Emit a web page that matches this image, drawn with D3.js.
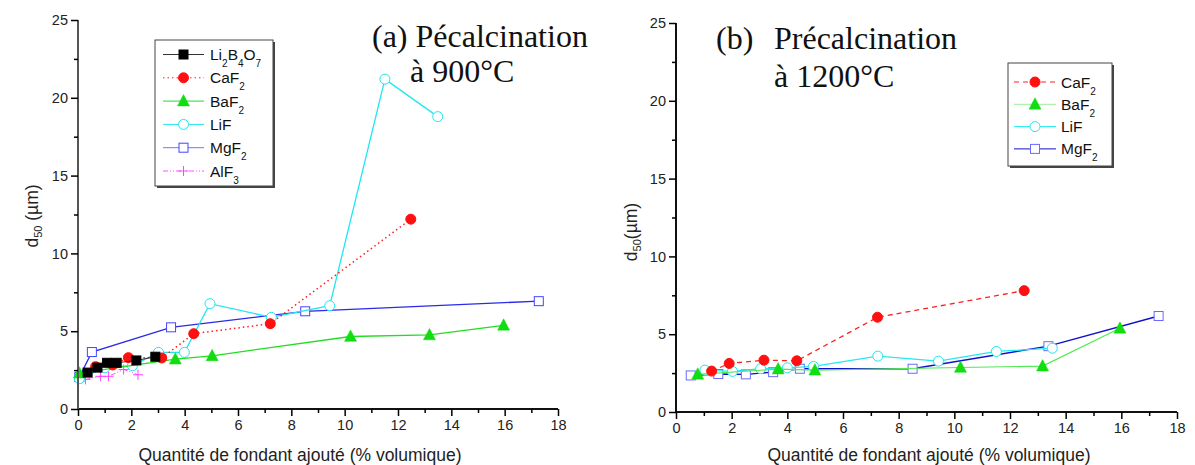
<!DOCTYPE html>
<html><head><meta charset="utf-8">
<script src="https://cdn.jsdelivr.net/npm/d3@7/dist/d3.min.js"></script>
<style>body{margin:0;background:#fff}svg{display:block}</style>
</head><body>
<svg id="c" width="1195" height="465"></svg>
<script>
// ---- data ----
const xTicks = [0, 2, 4, 6, 8, 10, 12, 14, 16, 18];
const yTicks = [0, 5, 10, 15, 20, 25];

// (a) precalcination 900°C
const li2b4o7X = [0.36, 0.73, 1.09, 1.45, 2.19, 2.9];
const li2b4o7Y = [2.34, 2.66, 2.97, 2.97, 3.12, 3.36];
const caf2aX = [0.66, 1.30, 1.89, 3.14, 4.34, 7.21, 12.48];
const caf2aY = [2.72, 2.83, 3.3, 3.28, 4.84, 5.48, 12.2];
const baf2aX = [0.05, 3.65, 5.03, 10.22, 13.18, 15.96];
const baf2aY = [2.3, 3.2, 3.42, 4.66, 4.76, 5.38];
const lifaX = [0.05, 1.01, 2.04, 3.02, 3.99, 4.95, 7.25, 9.44, 11.51, 13.49];
const lifaY = [1.95, 2.65, 2.78, 3.64, 3.64, 6.77, 5.89, 6.64, 21.2, 18.79];
const mgf2aX = [0.05, 0.52, 3.49, 8.52, 17.28];
const mgf2aY = [2.05, 3.66, 5.25, 6.28, 6.93];
const alf3X = [0.28, 0.84, 1.14, 1.71, 2.25];
const alf3Y = [1.9, 2.1, 2.1, 2.54, 2.2];

// (b) precalcination 1200°C
const caf2bX = [1.28, 1.91, 3.16, 4.34, 7.24, 12.51];
const caf2bY = [2.63, 3.12, 3.33, 3.29, 6.09, 7.8];
const baf2bX = [0.78, 3.67, 4.99, 10.22, 13.17, 15.95];
const baf2bY = [2.42, 2.76, 2.69, 2.86, 2.95, 5.38];
const lifbX = [1.04, 2.03, 3.04, 4.0, 4.94, 7.25, 9.43, 11.51, 13.52];
const lifbY = [2.69, 2.61, 2.78, 2.84, 2.93, 3.59, 3.27, 3.89, 4.1];
const mgf2bX = [0.53, 1.52, 2.51, 3.49, 4.45, 8.5, 13.38, 17.34];
const mgf2bY = [2.35, 2.44, 2.42, 2.56, 2.78, 2.78, 4.23, 6.17];

// ---- drawing ----
const svg = d3.select("#c");
const SANS = "Arial, 'Liberation Sans', sans-serif";
const SERIF = "'Times New Roman', 'Liberation Serif', serif";

function zip(xs, ys){ return xs.map((x,i)=>[x, ys[i]]); }

function drawMarker(g, type, x, y, st){
  if(type==="square"){
    const s = st.size;
    g.append("rect").attr("x",x-s/2).attr("y",y-s/2).attr("width",s).attr("height",s)
      .attr("fill",st.fill).attr("stroke",st.mstroke).attr("stroke-width",st.msw||1);
  } else if(type==="circle"){
    g.append("circle").attr("cx",x).attr("cy",y).attr("r",st.size/2)
      .attr("fill",st.fill).attr("stroke",st.mstroke).attr("stroke-width",st.msw||1);
  } else if(type==="triangle"){
    const s = st.size;
    const h = s*0.9;
    g.append("path").attr("d",`M${x},${y-h*0.6}L${x+s/2},${y+h*0.45}L${x-s/2},${y+h*0.45}Z`)
      .attr("fill",st.fill).attr("stroke",st.mstroke).attr("stroke-width",0.5);
  } else if(type==="plus"){
    const s = st.size/2;
    g.append("path").attr("d",`M${x-s},${y}H${x+s}M${x},${y-s}V${y+s}`)
      .attr("stroke",st.mstroke).attr("stroke-width",1).attr("fill","none");
  }
}

// label parts: [text, isSubscript]
function writeLabel(t, parts, subSize, subDy){
  let down = false;
  parts.forEach(p=>{
    const sp = t.append("tspan").text(p[0]);
    if(p[1]){ sp.attr("font-size",subSize); if(!down){ sp.attr("dy",subDy); down = true; } }
    else if(down){ sp.attr("dy",-subDy); down = false; }
  });
}

function panel(opt){
  const x = d3.scaleLinear().domain([0,18]).range([opt.x0, opt.x1]);
  const y = d3.scaleLinear().domain([0,25]).range([opt.y0, opt.y1]);
  const g = svg.append("g");

  // series
  opt.series.forEach(s=>{
    const pts = zip(s.xs, s.ys);
    g.append("path").datum(pts)
      .attr("d", d3.line().x(d=>x(d[0])).y(d=>y(d[1])))
      .attr("fill","none").attr("stroke",s.stroke).attr("stroke-width",s.sw||1)
      .attr("stroke-dasharray", s.dash||null);
    pts.forEach(p=>drawMarker(g, s.marker, x(p[0]), y(p[1]), s));
  });

  // axes
  const xAxis = d3.axisBottom(x).tickValues(xTicks).tickSize(7).tickPadding(4).tickFormat(d3.format("d"));
  const xMinor = d3.axisBottom(x).tickValues(d3.range(1,18,2)).tickSize(4).tickFormat("");
  const yAxis = d3.axisLeft(y).tickValues(yTicks).tickSize(7).tickPadding(3).tickFormat(d3.format("d"));
  const yMinor = d3.axisLeft(y).tickValues(d3.range(2.5,25,5)).tickSize(4).tickFormat("");

  const gx = g.append("g").attr("transform",`translate(0,${opt.y0})`).call(xAxis);
  g.append("g").attr("transform",`translate(0,${opt.y0})`).call(xMinor).select(".domain").remove();
  const gy = g.append("g").attr("transform",`translate(${opt.x0},0)`).call(yAxis);
  g.append("g").attr("transform",`translate(${opt.x0},0)`).call(yMinor).select(".domain").remove();
  [gx, gy].forEach(a=>{
    a.selectAll("text").attr("font-family",SANS).attr("font-size",14.5).attr("fill","#222");
    a.select(".domain").attr("stroke-width",2);
  });
  gx.select(".domain").attr("d",`M${opt.x0-1},0H${opt.x1}`).attr("stroke","#111");
  gy.select(".domain").attr("d",`M0,${opt.y0}V${opt.y1}`).attr("stroke",opt.yAxisColor);
  g.selectAll(".tick line").attr("stroke-width",1.5);

  // x label
  g.append("text").attr("x",opt.xlabX).attr("y",461).attr("text-anchor","middle")
    .attr("font-family",SANS).attr("font-size",17.5).attr("fill","#222")
    .text("Quantité de fondant ajouté (% volumique)");
  // y label
  const yl = g.append("text").attr("transform",`translate(${opt.ylabX},${opt.ylabY}) rotate(-90)`)
    .attr("text-anchor","middle").attr("font-family",SANS).attr("font-size",17.5).attr("fill","#222");
  yl.append("tspan").text("d");
  yl.append("tspan").attr("font-size",11).attr("dy",4).text("50");
  yl.append("tspan").attr("dy",-4).text(opt.ylabSuffix);

  // titles
  opt.titles.forEach(t=>{
    g.append("text").attr("x",t.x).attr("y",t.y).attr("font-family",SERIF)
      .attr("font-size",32).attr("fill","#111").text(t.text);
  });

  // legend
  const L = opt.legend;
  g.append("rect").attr("x",L.x+2).attr("y",L.y+2).attr("width",L.w).attr("height",L.h).attr("fill","#444");
  g.append("rect").attr("x",L.x).attr("y",L.y).attr("width",L.w).attr("height",L.h)
    .attr("fill","#fff").attr("stroke","#444").attr("stroke-width",1);
  opt.series.slice().sort((a,b)=>a.order-b.order).forEach((s,i)=>{
    const ry = L.y + L.first + i*L.step;
    g.append("path").attr("d",`M${L.lx0},${ry}H${L.lx1}`)
      .attr("stroke",s.legStroke||s.stroke).attr("stroke-width",1).attr("stroke-dasharray",s.dash||null);
    drawMarker(g, s.marker, (L.lx0+L.lx1)/2, ry, s);
    const t = g.append("text").attr("x",L.tx).attr("y",ry+5.5).attr("font-family",SANS)
      .attr("font-size",15.5).attr("fill","#111");
    writeLabel(t, s.label, 10, 7);
  });
}

panel({
  x0:78, x1:558, y0:409, y1:20, yAxisColor:"#555",
  xlabX:300, ylabX:38, ylabY:216, ylabSuffix:" (µm)",
  titles:[{x:372,y:47,text:"(a) Pécalcination"},{x:410,y:82,text:"à 900°C"}],
  legend:{x:155,y:40,w:118,h:146,first:14.5,step:23.3,lx0:163,lx1:204,tx:210},
  series:[
    {order:5,label:[["AlF"],["3",1]],xs:alf3X,ys:alf3Y,marker:"plus",stroke:"#ff55ff",mstroke:"#ff44ff",fill:"none",size:10,dash:"5,2,1,2,1,2"},
    {order:4,label:[["MgF"],["2",1]],xs:mgf2aX,ys:mgf2aY,marker:"square",stroke:"#2a2ae8",legStroke:"#7777ee",mstroke:"#4444ff",fill:"#fff",size:9,sw:1.3},
    {order:3,label:[["LiF"]],xs:lifaX,ys:lifaY,marker:"circle",stroke:"#22e6ee",mstroke:"#22e6ee",fill:"#fff",size:10,sw:1.3},
    {order:2,label:[["BaF"],["2",1]],xs:baf2aX,ys:baf2aY,marker:"triangle",stroke:"#22dd22",mstroke:"#11dd11",fill:"#11dd11",size:12,sw:1.3},
    {order:1,label:[["CaF"],["2",1]],xs:caf2aX,ys:caf2aY,marker:"circle",stroke:"#ff2020",mstroke:"#ff1010",fill:"#ff1010",size:10,sw:1.5,dash:"1.5,3"},
    {order:0,label:[["Li"],["2",1],["B"],["4",1],["O"],["7",1]],xs:li2b4o7X,ys:li2b4o7Y,marker:"square",stroke:"#333",mstroke:"#000",fill:"#000",size:9}
  ]
});

panel({
  x0:676, x1:1177, y0:412, y1:23, yAxisColor:"#111",
  xlabX:929, ylabX:637, ylabY:232, ylabSuffix:"(µm)",
  titles:[{x:716,y:49,text:"(b)"},{x:774,y:49,text:"Précalcination"},{x:774,y:87,text:"à 1200°C"}],
  legend:{x:1008,y:63,w:104,h:103,first:19,step:22.3,lx0:1014,lx1:1056,tx:1061},
  series:[
    {order:3,label:[["MgF"],["2",1]],xs:mgf2bX,ys:mgf2bY,marker:"square",stroke:"#1010cc",mstroke:"#6a6aff",fill:"#fff",size:9,sw:1.4},
    {order:2,label:[["LiF"]],xs:lifbX,ys:lifbY,marker:"circle",stroke:"#22eaf2",mstroke:"#22e6ee",fill:"#fff",size:10,sw:1.3},
    {order:1,label:[["BaF"],["2",1]],xs:baf2bX,ys:baf2bY,marker:"triangle",stroke:"#55e855",mstroke:"#11dd11",fill:"#11dd11",size:12,sw:1.2,legStroke:"#99ee99"},
    {order:0,label:[["CaF"],["2",1]],xs:caf2bX,ys:caf2bY,marker:"circle",stroke:"#ff2020",mstroke:"#ff1010",fill:"#ff1010",size:10,sw:1.3,dash:"5,4"}
  ]
});
</script>
</body></html>
